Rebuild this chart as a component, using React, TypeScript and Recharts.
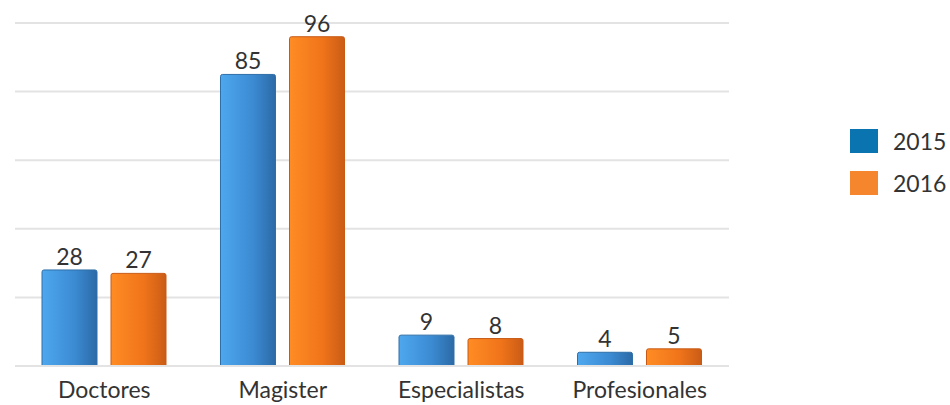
import React from 'react';
import { BarChart, Bar, XAxis, YAxis, CartesianGrid, LabelList } from 'recharts';

const categories = ['Doctores', 'Magister', 'Especialistas', 'Profesionales'];
const values2015 = [28, 85, 9, 4];
const values2016 = [27, 96, 8, 5];
const yTicks = [0, 20, 40, 60, 80, 100];

const FONT = 'Lato, "Open Sans", sans-serif';

const chartData = categories.map((name, i) => ({
  name,
  y2015: values2015[i],
  y2016: values2016[i],
}));

const LegendBox = () => (
  <div style={{ position: 'absolute', left: 850, top: 128, fontFamily: FONT, fontSize: 23, color: '#333' }}>
    <div style={{ display: 'flex', alignItems: 'center', height: 26, marginBottom: 16 }}>
      <span style={{ width: 28, height: 24, background: '#0a74b0', display: 'inline-block', marginRight: 15 }} />
      2015
    </div>
    <div style={{ display: 'flex', alignItems: 'center', height: 26 }}>
      <span style={{ width: 28, height: 24, background: '#f5862e', display: 'inline-block', marginRight: 15 }} />
      2016
    </div>
  </div>
);

const App: React.FC = () => {
  return (
    <div style={{ position: 'absolute', left: 0, top: 0, width: 950, height: 405, background: '#fff' }}>
      <BarChart
        width={950}
        height={405}
        data={chartData}
        margin={{ top: 23, right: 221, left: 15, bottom: 0 }}
        barGap={14}
        barSize={55}
      >
        <defs>
          <linearGradient id="gBlue" x1="0" y1="0" x2="1" y2="0">
            <stop offset="0%" stopColor="#4ea8ee" />
            <stop offset="60%" stopColor="#3b8ad2" />
            <stop offset="100%" stopColor="#2c6aa6" />
          </linearGradient>
          <linearGradient id="gOrange" x1="0" y1="0" x2="1" y2="0">
            <stop offset="0%" stopColor="#ff8c24" />
            <stop offset="60%" stopColor="#f0741a" />
            <stop offset="100%" stopColor="#ca5c16" />
          </linearGradient>
        </defs>
        <CartesianGrid vertical={false} stroke="#e3e3e3" strokeWidth={2} />
        <XAxis
          dataKey="name"
          height={39}
          tickLine={false}
          axisLine={{ stroke: '#e3e3e3', strokeWidth: 2 }}
          tick={{ fill: '#333', fontSize: 23, fontFamily: FONT }}
          tickMargin={10}
        />
        <YAxis hide domain={[0, 100]} ticks={yTicks} />
        <Bar dataKey="y2015" name="2015" fill="url(#gBlue)" stroke="#2f6fa8" strokeWidth={1} radius={[2, 2, 0, 0]} isAnimationActive={false}>
          <LabelList dataKey="y2015" position="top" offset={5} fill="#333" fontSize={23} fontFamily={FONT} />
        </Bar>
        <Bar dataKey="y2016" name="2016" fill="url(#gOrange)" stroke="#c85a16" strokeWidth={1} radius={[2, 2, 0, 0]} isAnimationActive={false}>
          <LabelList dataKey="y2016" position="top" offset={5} fill="#333" fontSize={23} fontFamily={FONT} />
        </Bar>
      </BarChart>
      <LegendBox />
    </div>
  );
};

export default App;
